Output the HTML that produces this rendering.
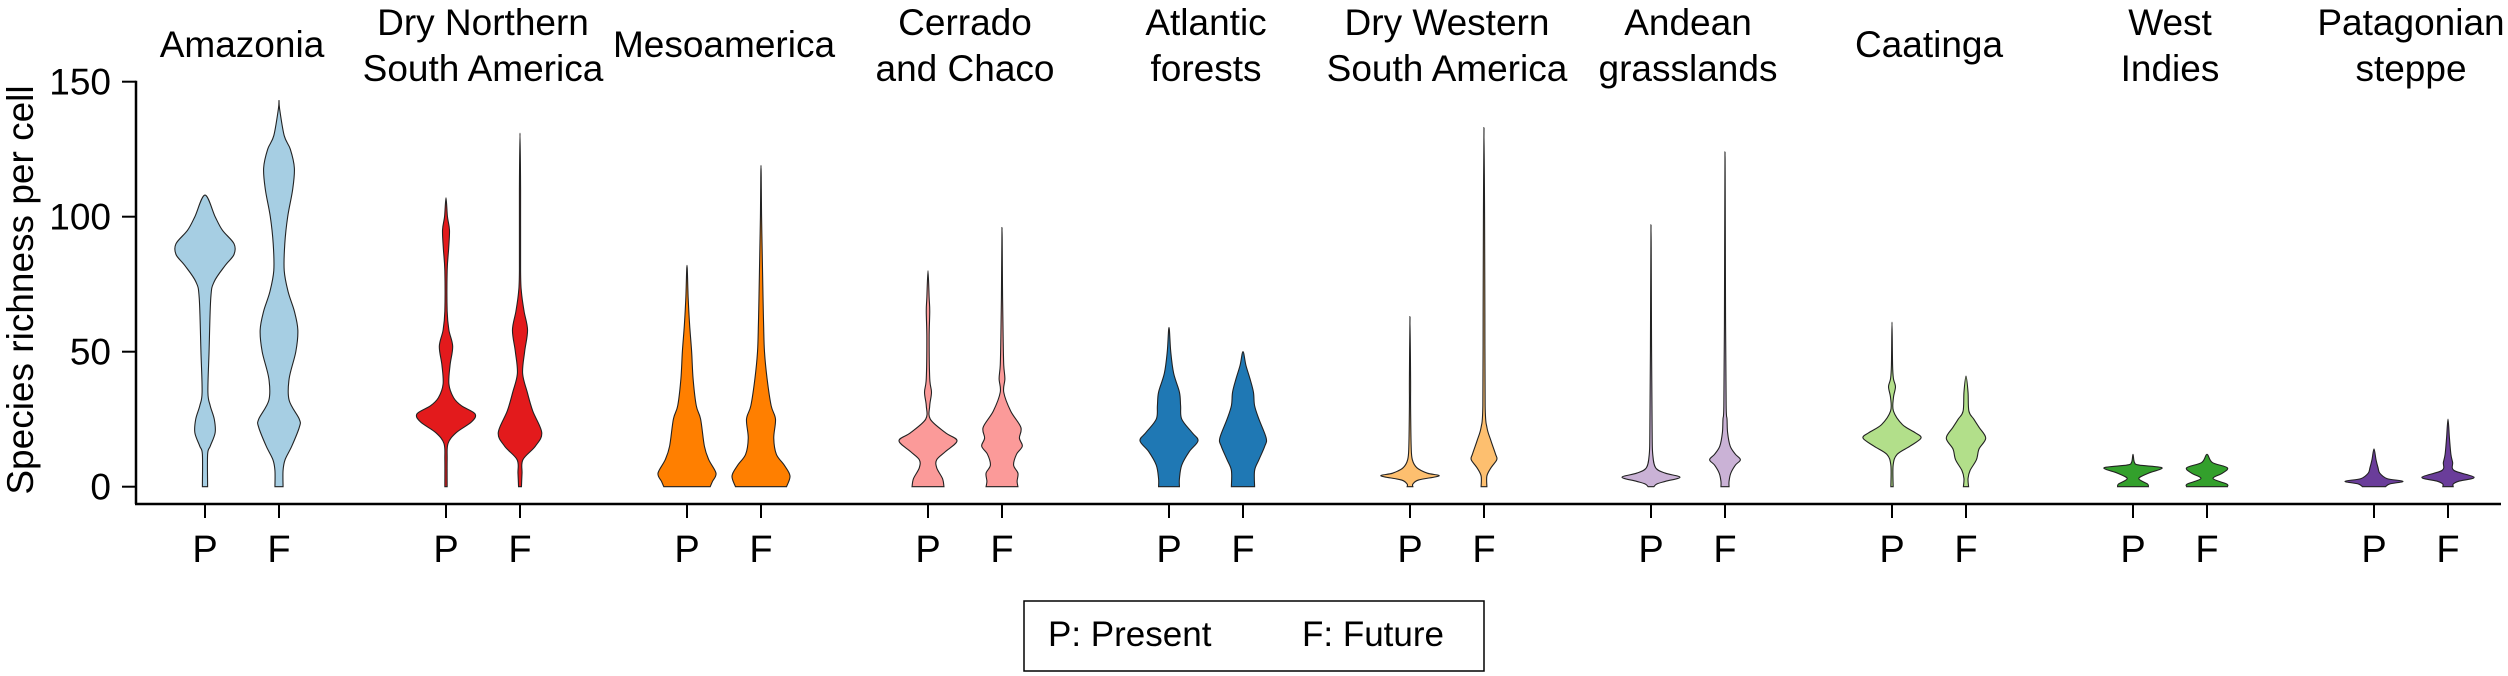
<!DOCTYPE html>
<html><head><meta charset="utf-8">
<style>
html,body{margin:0;padding:0;background:#fff;}
svg{display:block;font-family:"Liberation Sans",Arial,sans-serif;}
</style></head>
<body>
<svg id="chart" width="2508" height="676" viewBox="0 0 2508 676">
<g id="axes"></g>
<g id="violins"></g>
<g id="titles"></g>
<g>
<rect x="1024" y="601" width="460" height="70" fill="#fff" stroke="#000" stroke-width="1.5"/>
<text x="1048" y="646" font-size="35">P: Present</text>
<text x="1302" y="646" font-size="35">F: Future</text>
</g>
</svg>
<script>
const regions = ["Amazonia","Dry Northern South America","Mesoamerica","Cerrado and Chaco","Atlantic forests","Dry Western South America","Andean grasslands","Caatinga","West Indies","Patagonian steppe"];
const titleLines = [["Amazonia"],["Dry Northern","South America"],["Mesoamerica"],["Cerrado","and Chaco"],["Atlantic","forests"],["Dry Western","South America"],["Andean","grasslands"],["Caatinga"],["West","Indies"],["Patagonian","steppe"]];
const colors = ["#a6cee3","#e31a1c","#ff7f00","#fb9a99","#1f78b4","#fdbf6f","#cab2d6","#b2df8a","#33a02c","#6a3d9a"];
const periods = ["P","F"];
const yTicks = [0,50,100,150];
// density profiles: [value, relative density]
const presentProfiles = [
 [[0,.09],[12,.09],[15,.18],[20,.35],[25,.32],[30,.18],[35,.1],[50,.14],[70,.2],[76,.32],[82,.7],[86,1],[90,1],[95,.6],[100,.35],[108,0]],
 [[0,.04],[10,.04],[16,.07],[20,.35],[24,.88],[27,1],[30,.53],[33,.26],[38,.1],[45,.14],[52,.23],[58,.1],[65,.04],[80,.04],[88,.09],[95,.12],[100,.05],[107,0]],
 [[0,.8],[2,.88],[5,1],[10,.75],[15,.6],[25,.47],[30,.32],[40,.21],[50,.16],[60,.09],[70,.04],[82,0]],
 [[0,.55],[3,.5],[7,.3],[10,.3],[13,.6],[17,1],[20,.6],[25,.08],[30,.06],[35,.12],[40,.06],[55,.04],[65,.06],[70,.04],[80,0]],
 [[0,.36],[3,.36],[8,.44],[13,.7],[17,1],[20,.8],[25,.44],[30,.4],[35,.36],[42,.16],[50,.06],[59,0]],
 [[0,.1],[1,.1],[2.5,.3],[4,1],[5,.6],[7,.24],[10,.08],[15,.04],[30,.02],[40,.02],[63,0]],
 [[0,.1],[1,.2],[2,.5],[3.5,1],[5,.5],[7,.16],[12,.06],[20,.04],[50,.02],[97,0]],
 [[0,.04],[8,.04],[12,.18],[15,.62],[18,1],[20,.8],[23,.36],[28,.05],[33,.05],[37,.12],[40,.05],[45,.02],[61,0]],
 [[0,.53],[1,.5],[3,.2],[5,.53],[7,1],[8,.21],[9,.05],[12,0]],
 [[0,.4],[1,.54],[2,1],[3,.45],[5,.2],[7,.14],[10,.07],[14,0]]
];
const futureProfiles = [
 [[0,.14],[6,.14],[10,.21],[15,.44],[22,.7],[25,.7],[32,.35],[40,.35],[50,.58],[58,.65],[65,.53],[72,.32],[80,.18],[90,.2],[100,.3],[110,.47],[118,.53],[125,.39],[130,.18],[140,.02],[143,0]],
 [[0,.05],[5,.07],[10,.1],[15,.53],[20,.75],[28,.44],[35,.25],[42,.09],[50,.16],[58,.26],[65,.14],[72,.05],[80,.02],[110,.02],[131,0]],
 [[0,.88],[4,1],[8,.8],[12,.53],[18,.44],[25,.5],[30,.35],[40,.21],[50,.12],[60,.09],[70,.07],[88,.04],[100,.02],[119,0]],
 [[0,.55],[2,.52],[5,.55],[8,.4],[12,.5],[15,.7],[18,.6],[22,.65],[28,.3],[35,.06],[40,.1],[45,.06],[55,.04],[70,.02],[96,0]],
 [[0,.4],[6,.4],[10,.55],[15,.75],[18,.8],[25,.55],[30,.4],[35,.36],[40,.24],[45,.1],[50,0]],
 [[0,.1],[4,.1],[7,.24],[10,.44],[12,.4],[17,.24],[22,.1],[30,.04],[65,.03],[100,.02],[133,0]],
 [[0,.14],[2,.14],[5,.2],[8,.36],[10,.53],[12,.36],[15,.18],[20,.09],[25,.07],[30,.04],[60,.02],[124,0]],
 [[0,.09],[3,.07],[6,.14],[10,.36],[14,.45],[18,.68],[22,.45],[25,.27],[28,.1],[35,.07],[41,0]],
 [[0,.7],[1,.68],[3,.21],[5,.53],[7,.7],[9,.18],[12,0]],
 [[0,.18],[1,.18],[2,.36],[3.5,.9],[6,.21],[9,.16],[12,.1],[18,.05],[25,0]]
];
const NS="http://www.w3.org/2000/svg";
const y0=486.7, pxPerUnit=(486.7-81.7)/150, halfMax=29;
function yScale(v){return y0 - v*pxPerUnit;}
function groupCenter(i){return 242 + i*241;}
function xPos(i,p){return groupCenter(i) + (p===0?-37:37);}
function mk(tag,attrs,parent){const e=document.createElementNS(NS,tag);for(const k in attrs)e.setAttribute(k,attrs[k]);parent.appendChild(e);return e;}
function smoothPath(pts){
  let d="M"+pts[0][0].toFixed(2)+","+pts[0][1].toFixed(2);
  for(let i=0;i<pts.length-1;i++){
    const p0=pts[Math.max(0,i-1)],p1=pts[i],p2=pts[i+1],p3=pts[Math.min(pts.length-1,i+2)];
    const c1=[p1[0]+(p2[0]-p0[0])/6,p1[1]+(p2[1]-p0[1])/6];
    const c2=[p2[0]-(p3[0]-p1[0])/6,p2[1]-(p3[1]-p1[1])/6];
    d+="C"+c1[0].toFixed(2)+","+c1[1].toFixed(2)+" "+c2[0].toFixed(2)+","+c2[1].toFixed(2)+" "+p2[0].toFixed(2)+","+p2[1].toFixed(2);
  }
  return d;
}
function violinPath(cx,prof){
  const right=prof.map(q=>[cx+q[1]*halfMax,yScale(q[0])]);
  const left=prof.slice().reverse().map(q=>[cx-q[1]*halfMax,yScale(q[0])]);
  const pts=right.concat(left.slice(1));
  return smoothPath(pts)+"Z";
}
const axes=document.getElementById('axes');
const a1=mk('line',{x1:136,y1:yScale(150)-1,x2:136,y2:504,stroke:'#000','stroke-width':2.5},axes);


const a2=mk('line',{x1:135,y1:504,x2:2501,y2:504,stroke:'#000','stroke-width':2.5},axes);


yTicks.forEach(t=>{
  const l=mk('line',{x1:122,y1:yScale(t),x2:136,y2:yScale(t),stroke:'#000','stroke-width':2},axes);
  
  
  const tx=mk('text',{x:111,y:yScale(t)+13,'text-anchor':'end','font-size':37},axes);
  tx.textContent=String(t);
  
  
});
const yt=mk('text',{x:0,y:0,transform:'translate(33,290) rotate(-90)','text-anchor':'middle','font-size':37},axes);
yt.textContent='Species richness per cell';


const vg=document.getElementById('violins');
const tg=document.getElementById('titles');
regions.forEach((r,i)=>{
  [presentProfiles[i],futureProfiles[i]].forEach((prof,p)=>{
    const cx=xPos(i,p);
    const path=mk('path',{d:violinPath(cx,prof),fill:colors[i],stroke:'#222','stroke-width':1.1},vg);
    
    
    const tk=mk('line',{x1:cx,y1:504,x2:cx,y2:518,stroke:'#000','stroke-width':2},axes);
    
    
    const lb=mk('text',{x:cx,y:562,'text-anchor':'middle','font-size':38},axes);
    lb.textContent=periods[p];
    
    
  });
  const lines=titleLines[i];
  const t=mk('text',{'text-anchor':'middle','font-size':37},tg);
  
  
  const baseYs = lines.length===1?[57]:[35,81];
  lines.forEach((ln,k)=>{
    const ts=mk('tspan',{x:groupCenter(i),y:baseYs[k]},t);
    ts.textContent=ln;
  });
});
</script>
</body></html>
